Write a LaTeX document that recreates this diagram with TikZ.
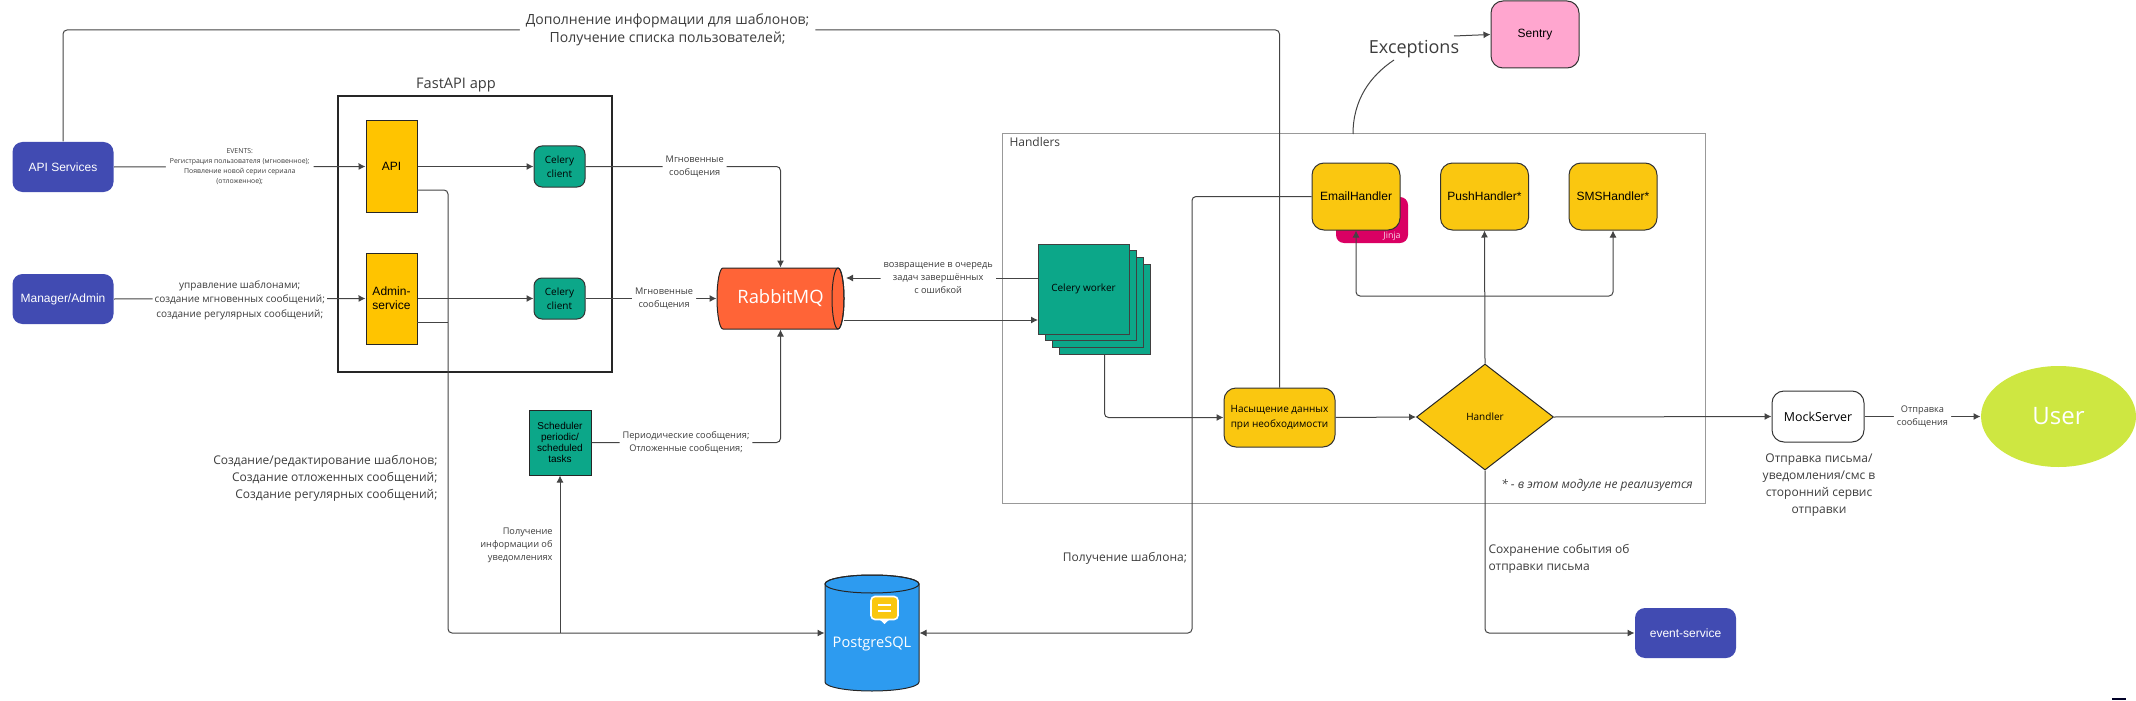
\documentclass[tikz,border=0pt]{standalone}
\usepackage{fontspec}
\setmainfont{Open Sans}
\newfontfamily\arialfont{Liberation Sans}
\usetikzlibrary{shapes.geometric, arrows.meta, positioning, calc}
\definecolor{colorIndigo}{HTML}{414BB2}
\definecolor{colorAmbar}{HTML}{FFC400}
\definecolor{colorAmarillo}{HTML}{FAC710}
\definecolor{colorTeal}{HTML}{0CA789}
\definecolor{colorNaranja}{HTML}{FF6437}
\definecolor{colorAzul}{HTML}{2D9BF0}
\definecolor{colorJinja}{HTML}{DA0063}
\definecolor{colorRosa}{HTML}{FFA6CF}
\definecolor{colorLima}{HTML}{CEE741}
\definecolor{grisLinea}{HTML}{444444}
\definecolor{grisTexto}{HTML}{3C3C3C}
\begin{document}
\begin{tikzpicture}[x=0.5pt, y=-0.5pt, >=Latex, line width=0.5pt,
        base/.style={align=center, inner sep=0pt, text=black},
        svc/.style={base, draw=none, fill=colorIndigo, rounded corners=5pt, text=white,
            font=\arialfont\fontsize{6}{8}\selectfont, minimum width=50.5pt, minimum height=25pt},
        app/.style={base, draw=black!85, fill=colorAmbar, font=\arialfont\fontsize{6}{7}\selectfont,
            minimum width=25.5pt, minimum height=45.5pt},
        client/.style={base, draw=black!80, fill=colorTeal, rounded corners=4pt,
            font=\fontsize{5}{7}\selectfont, minimum width=25.5pt, minimum height=20.5pt},
        handlerbox/.style={base, draw=black!80, fill=colorAmarillo, rounded corners=6pt,
            font=\arialfont\fontsize{6}{8}\selectfont, minimum width=44pt, minimum height=33.5pt},
        workerbox/.style={base, draw=black!75, fill=colorTeal,
            font=\fontsize{5}{7}\selectfont, minimum width=45.5pt, minimum height=45pt},
        lblbig/.style={align=center, inner sep=1pt, text=grisTexto, font=\fontsize{6}{8.5}\selectfont},
        lblmid/.style={align=center, inner sep=1.5pt, fill=white, text=grisTexto, font=\fontsize{4.6}{6.5}\selectfont},
        lbltiny/.style={align=center, inner sep=2pt, fill=white, text=grisTexto, font=\fontsize{3.45}{5}\selectfont},
        link/.style={draw=grisLinea, rounded corners=2pt},
        msg/.style={link, -{Latex[length=3.5pt, width=3.5pt]}}]
    \useasboundingbox (0,0) rectangle (2136,701);
    % containers
    \node[draw=black!85, line width=1pt, minimum width=137pt, minimum height=138pt] (fastapi) at (475,234) {};
    \node[lblbig, font=\fontsize{7.3}{9}\selectfont] (fastapiTitle) at (456,85) {FastAPI app};
    \node[draw=black!40, minimum width=351.5pt, minimum height=184.5pt] (handlers) at (1353.5,318.5) {};
    \node[lblbig, anchor=west, font=\fontsize{6}{8}\selectfont] (handlersTitle) at (1007,142) {Handlers};
    % producers
    \node[svc] (srv) at (63,167) {API Services};
    \node[svc] (mgr) at (63,299) {Manager/Admin};
    \node[app] (api) at (391.5,166.5) {API};
    \node[app] (admin) at (391.5,298.5) {Admin-\\service};
    \node[client] (c1) at (559.5,166.5) {Celery\\client};
    \node[client] (c2) at (559.5,298.5) {Celery\\client};
    \node[base, draw=black!85, fill=colorTeal, font=\arialfont\fontsize{5}{5.5}\selectfont,
        minimum width=31pt, minimum height=32.5pt] (sched) at (560,442.5) {Scheduler\\periodic/\\scheduled\\tasks};
    % queue and storage
    \draw[draw=black!85, fill=colorNaranja] (723,268) -- (838,268) arc[start angle=90, end angle=-90, x radius=3pt, y radius=15.25pt]
        -- (723,329) arc[start angle=270, end angle=90, x radius=3pt, y radius=15.25pt] -- cycle;
    \draw[draw=black!85] (838,298.5) ellipse[x radius=3pt, y radius=15.25pt];
    \node[text=white, inner sep=0pt, minimum width=63.5pt, minimum height=30.5pt, font=\fontsize{9.2}{11}\selectfont] (rabbit) at (780.5,298.5) {RabbitMQ\hspace{5pt}};
    \draw[draw=black!85, fill=colorAzul] (825,584) -- (825,682) arc[start angle=180, end angle=360, x radius=23.5pt, y radius=4.5pt]
        -- (919,584) arc[start angle=0, end angle=180, x radius=23.5pt, y radius=4.5pt] -- cycle;
    \draw[draw=black!85] (872,584) ellipse[x radius=23.5pt, y radius=4.5pt];
    \node[minimum width=47pt, minimum height=58pt, inner sep=0pt] (pg) at (872,633) {};
    \node[text=white, inner sep=0pt, font=\fontsize{7.3}{9}\selectfont] (pgText) at (872,644) {PostgreSQL};
    \fill[white] (878,618) -- (884.5,624) -- (891,618) -- cycle;
    \node[base, fill=colorAmarillo, draw=white, line width=0.8pt, rounded corners=2pt, minimum width=13.5pt, minimum height=11.5pt] (pgIcon) at (884.5,608) {};
    \draw[white, line width=0.6pt] (878,605) -- (891,605) (878,611) -- (891,611);
    % handlers
    \foreach \k in {3,2,1} \node[workerbox] (w\k) at ({1083.5+7*\k},{289+6.7*\k}) {};
    \node[workerbox] (worker) at (1083.5,289) {Celery worker};
    \node[handlerbox, font=\fontsize{5}{7.2}\selectfont, minimum width=55.5pt, minimum height=29.5pt] (enrich) at (1279.5,417.5) {Насыщение данных\\при необходимости};
    \node[diamond, base, draw=black!85, fill=colorAmarillo, font=\fontsize{5}{7}\selectfont,
        minimum width=68.5pt, minimum height=53pt] (handler) at (1485,417) {Handler};
    \node[base, fill=colorJinja, rounded corners=4pt, minimum width=36pt, minimum height=23pt] (jinja) at (1372,220) {};
    \node[text=white!85!colorJinja, inner sep=0pt, font=\fontsize{4.4}{6}\selectfont] (jinjaText) at (1392,236) {Jinja};
    \node[handlerbox] (email) at (1356,196.5) {EmailHandler};
    \node[handlerbox] (push) at (1484.5,196.5) {PushHandler*};
    \node[handlerbox] (sms) at (1613,196.5) {SMSHandler*};
    \node[lblbig, font=\itshape\fontsize{6}{8}\selectfont] (note) at (1597,485) {* - в этом модуле не реализуется};
    % outside
    \node[handlerbox, fill=colorRosa] (sentry) at (1535,34.5) {Sentry};
    \node[lblbig, inner sep=0pt, font=\fontsize{9}{10}\selectfont] (exc) at (1414,49) {Exceptions};
    \node[handlerbox, fill=white, font=\fontsize{6.2}{8}\selectfont, minimum width=46pt, minimum height=25.5pt] (mock) at (1818,416.5) {MockServer};
    \node[ellipse, fill=colorLima, inner sep=0pt, text=white, font=\fontsize{12}{14}\selectfont,
        minimum width=77.5pt, minimum height=50.5pt] (user) at (2058.5,416.5) {User};
    \node[svc] (event) at (1685.5,633) {event-service};
    % bends
    \coordinate (topL) at (63,30);
    \coordinate (topR) at (1279.5,30);
    \coordinate (apiOut) at (417,190);
    \coordinate (adminOut) at (417,322);
    \coordinate (busTop) at (448,190);
    \coordinate (busMid) at (448,322);
    \coordinate (busBottom) at (448,633);
    \coordinate (busSched) at (560,633);
    \coordinate (c1Bend) at (780.5,166.5);
    \coordinate (schedBend) at (780.5,442.5);
    \coordinate (rabbitIn) at (846,278);
    \coordinate (rabbitOut) at (844,320);
    \coordinate (workerOut) at (1038,278);
    \coordinate (workerIn) at (1038,320);
    \coordinate (emailBend) at (1192,196.5);
    \coordinate (emailLow) at (1192,633);
    \coordinate (fork) at (1484.5,296);
    \coordinate (forkL) at (1356,296);
    \coordinate (forkR) at (1613,296);
    \coordinate (eventBend) at (1485,633);
    \coordinate (handlersTop) at (1353,134);
    \coordinate (excIn) at (1394,60);
    \coordinate (excOut) at (1454,36);
    % connectors
    \draw[link] (srv.north) -- (topL) -- node[lblbig, fill=white, inner sep=3pt, font=\fontsize{7}{8.7}\selectfont, pos=0.497]{Дополнение информации для шаблонов;\\Получение списка пользователей;} (topR) -- (enrich.north);
    \draw[msg] (srv.east) -- node[lbltiny]{EVENTS:\\Регистрация пользователя (мгновенное);\\Появление новой серии сериала\\(отложенное);} (api.west);
    \draw[msg] (mgr.east) -- node[lblbig, fill=white, yshift=-0.7pt, font=\fontsize{5}{7.2}\selectfont]{управление шаблонами;\\создание мгновенных сообщений;\\создание регулярных сообщений;} (admin.west);
    \draw[msg] (api.east) -- (c1.west);
    \draw[msg] (admin.east) -- (c2.west);
    \draw[msg] (c1.east) -- node[lblmid, pos=0.56]{Мгновенные\\сообщения} (c1Bend) -- (rabbit.north);
    \draw[msg] (c2.east) -- node[lblmid, pos=0.6]{Мгновенные\\сообщения} (rabbit.west);
    \draw[msg] (sched.east) -- node[lblmid]{Периодические сообщения;\\Отложенные сообщения;} (schedBend) -- (rabbit.south);
    \draw[msg] (apiOut) -- (busTop) -- (busBottom) -- (pg.west);
    \draw[link] (adminOut) -- (busMid);
    \draw[msg] (busSched) -- (sched.south);
    \draw[msg] (workerOut) -- node[lblmid, pos=0.52]{возвращение в очередь\\задач завершённых\\с ошибкой} (rabbitIn);
    \draw[msg] (rabbitOut) -- (workerIn);
    \draw[msg] (w3.south) |- (enrich.west);
    \draw[msg] (email.west) -- (emailBend) -- (emailLow) -- (pg.east);
    \draw[msg] (enrich.east) -- (handler.west);
    \draw[msg] (handler.north) -- (push.south);
    \draw[msg] (fork) -- (forkL) -- (email.south);
    \draw[msg] (fork) -- (forkR) -- (sms.south);
    \draw[msg] (handler.east) -- (mock.west);
    \draw[msg] (mock.east) -- node[lblmid]{Отправка\\сообщения} (user.west);
    \draw[msg] (handler.south) -- (eventBend) -- (event.west);
    \draw[link] (handlersTop) .. controls (1353,100) and (1370,76) .. (excIn);
    \draw[msg] (excOut) -- (sentry.west);
    \draw[draw=black!85!blue, line width=1pt] (2112,699) -- (2126,699);
    % free labels
    \node[lblbig, align=right, anchor=east] (busLabel) at (440,478) {Создание/редактирование шаблонов;\\Создание отложенных сообщений;\\Создание регулярных сообщений;};
    \node[lblmid, fill=none, align=right, anchor=east] (infoLabel) at (556,545.5) {Получение\\информации об\\уведомлениях};
    \node[lblbig] (tplLabel) at (1125,558) {Получение шаблона;};
    \node[lblbig, align=left, anchor=west] (saveLabel) at (1486,558.5) {Сохранение события об\\отправки письма};
    \node[lblbig] (mockLabel) at (1819,485) {Отправка письма/\\уведомления/смс в\\сторонний сервис\\отправки};
\end{tikzpicture}
\end{document}
